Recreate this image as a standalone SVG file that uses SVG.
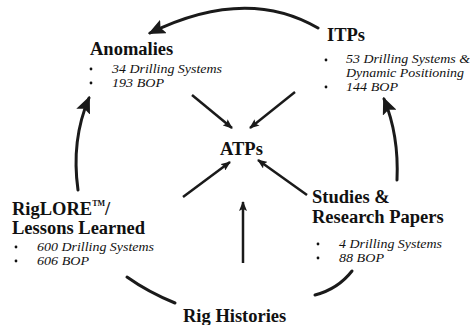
<svg xmlns="http://www.w3.org/2000/svg" width="470" height="325" viewBox="0 0 470 325">
<style>
.h{font-family:"Liberation Serif","Times New Roman",serif;font-weight:bold;font-size:18.5px;fill:#111}
.b{font-family:"Liberation Serif","Times New Roman",serif;font-style:italic;font-size:12px;fill:#111}
.dot{fill:#111}
.arc{fill:none;stroke:#1a1a1a;stroke-width:3;stroke-linecap:round}
.ln{fill:none;stroke:#1a1a1a;stroke-width:2.5}
</style>
<defs>
<marker id="big" viewBox="0 0 16 14" refX="14" refY="7" markerWidth="17" markerHeight="15" markerUnits="userSpaceOnUse" orient="auto">
<path d="M0,0 L16,7 L0,14 L3,7 Z" fill="#1a1a1a"/>
</marker>
<marker id="sm" viewBox="0 0 10 8" refX="9" refY="4" markerWidth="10" markerHeight="8" markerUnits="userSpaceOnUse" orient="auto">
<path d="M0,0 L10,4 L0,8 L2,4 Z" fill="#1a1a1a"/>
</marker>
</defs>
<g id="connectors">
<path class="arc" d="M318,28 Q246,-14 150,33" marker-end="url(#big)"/>
<path class="arc" d="M78,190 Q71,140 89,98" marker-end="url(#big)"/>
<path class="arc" d="M397,180 Q399,135 384,99" marker-end="url(#big)"/>
<path class="arc" d="M175,303 Q148,292 127,277"/>
<path class="arc" d="M315,295 Q338,289 352,271"/>
<path class="ln" d="M192,95 L232,128" marker-end="url(#sm)"/>
<path class="ln" d="M295,92 L250,128" marker-end="url(#sm)"/>
<path class="ln" d="M183,197 L230,162" marker-end="url(#sm)"/>
<path class="ln" d="M307,195 L258,160" marker-end="url(#sm)"/>
<path class="ln" d="M243,263 L243,202" marker-end="url(#sm)"/>
</g>
<g id="anomalies">
<text class="h" x="90" y="55">Anomalies</text>
<circle class="dot" cx="91" cy="69" r="1.4"/>
<circle class="dot" cx="91" cy="83" r="1.4"/>
<text class="b" x="112" y="73" textLength="110" lengthAdjust="spacingAndGlyphs">34 Drilling Systems</text>
<text class="b" x="112" y="87" textLength="52" lengthAdjust="spacingAndGlyphs">193 BOP</text>
</g>
<g id="itps">
<text class="h" x="327" y="41">ITPs</text>
<circle class="dot" cx="326" cy="60" r="1.4"/>
<circle class="dot" cx="326" cy="87" r="1.4"/>
<text class="b" x="346" y="63" textLength="124" lengthAdjust="spacingAndGlyphs">53 Drilling Systems &amp;</text>
<text class="b" x="346" y="77" textLength="118" lengthAdjust="spacingAndGlyphs">Dynamic Positioning</text>
<text class="b" x="346" y="91" textLength="52" lengthAdjust="spacingAndGlyphs">144 BOP</text>
</g>
<g id="atps">
<text class="h" x="220" y="155">ATPs</text>
</g>
<g id="riglore">
<text class="h"><tspan x="12" y="215">RigLORE<tspan dy="-9" font-size="8">TM</tspan><tspan dy="9">/</tspan></tspan><tspan x="12" y="234">Lessons Learned</tspan></text>
<circle class="dot" cx="16" cy="247" r="1.4"/>
<circle class="dot" cx="16" cy="261" r="1.4"/>
<text class="b" x="37" y="251" textLength="117" lengthAdjust="spacingAndGlyphs">600 Drilling Systems</text>
<text class="b" x="37" y="265" textLength="52" lengthAdjust="spacingAndGlyphs">606 BOP</text>
</g>
<g id="studies">
<text class="h"><tspan x="312" y="203">Studies &amp;</tspan><tspan x="312" y="223">Research Papers</tspan></text>
<circle class="dot" cx="318" cy="244" r="1.4"/>
<circle class="dot" cx="318" cy="258" r="1.4"/>
<text class="b" x="339" y="248" textLength="103" lengthAdjust="spacingAndGlyphs">4 Drilling Systems</text>
<text class="b" x="339" y="262" textLength="45" lengthAdjust="spacingAndGlyphs">88 BOP</text>
</g>
<g id="righistories">
<text class="h" x="183" y="322">Rig Histories</text>
</g>
</svg>
